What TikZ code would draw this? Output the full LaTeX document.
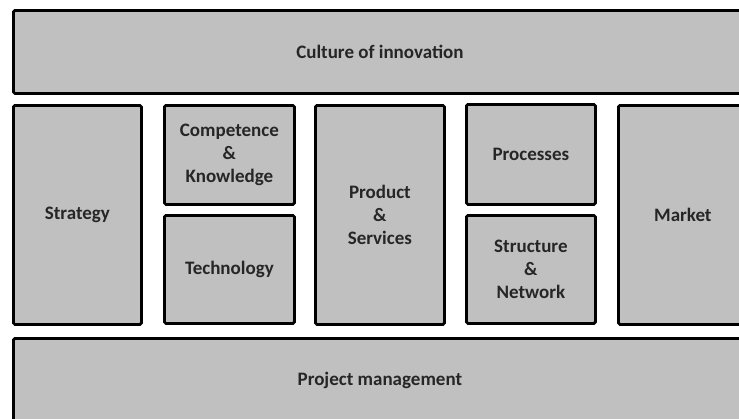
\documentclass[tikz,border=0pt]{standalone}
\usepackage{fontspec}
\setmainfont{Carlito}
\definecolor{boxgray}{RGB}{192,192,192}
\definecolor{txtgray}{RGB}{38,38,38}
\begin{document}
\begin{tikzpicture}[x=1pt,y=-1pt,
  blk/.style={draw=black, line width=2.8pt, fill=boxgray, rounded corners=1.5pt,
    inner sep=0pt, anchor=north west, align=center, text=txtgray,
    font=\fontsize{19}{23}\selectfont\bfseries}]
\useasboundingbox (0,0) rectangle (739,418);
\clip (0,0) rectangle (739,418);
\node[blk, minimum width=733pt, minimum height=83pt] (culture) at (12,9) {Culture of innovation};
\node[blk, minimum width=128pt, minimum height=219pt] (strategy) at (12,104) {Strategy};
\node[blk, minimum width=130pt, minimum height=99pt] (comp) at (163,104) {Competence\\\&\\Knowledge};
\node[blk, minimum width=130pt, minimum height=108pt] (tech) at (163,214) {Technology};
\node[blk, minimum width=129pt, minimum height=219pt] (prod) at (314,104) {Product\\\&\\Services};
\node[blk, minimum width=129pt, minimum height=100pt] (proc) at (465,103) {Processes};
\node[blk, minimum width=129pt, minimum height=108pt] (struct) at (465,214) {Structure\\\&\\Network};
\node[blk, minimum width=129pt, minimum height=219pt] (market) at (617,104) {Market};
\node[blk, minimum width=733pt, minimum height=85pt] (pm) at (12,337) {Project management};
\end{tikzpicture}
\end{document}
